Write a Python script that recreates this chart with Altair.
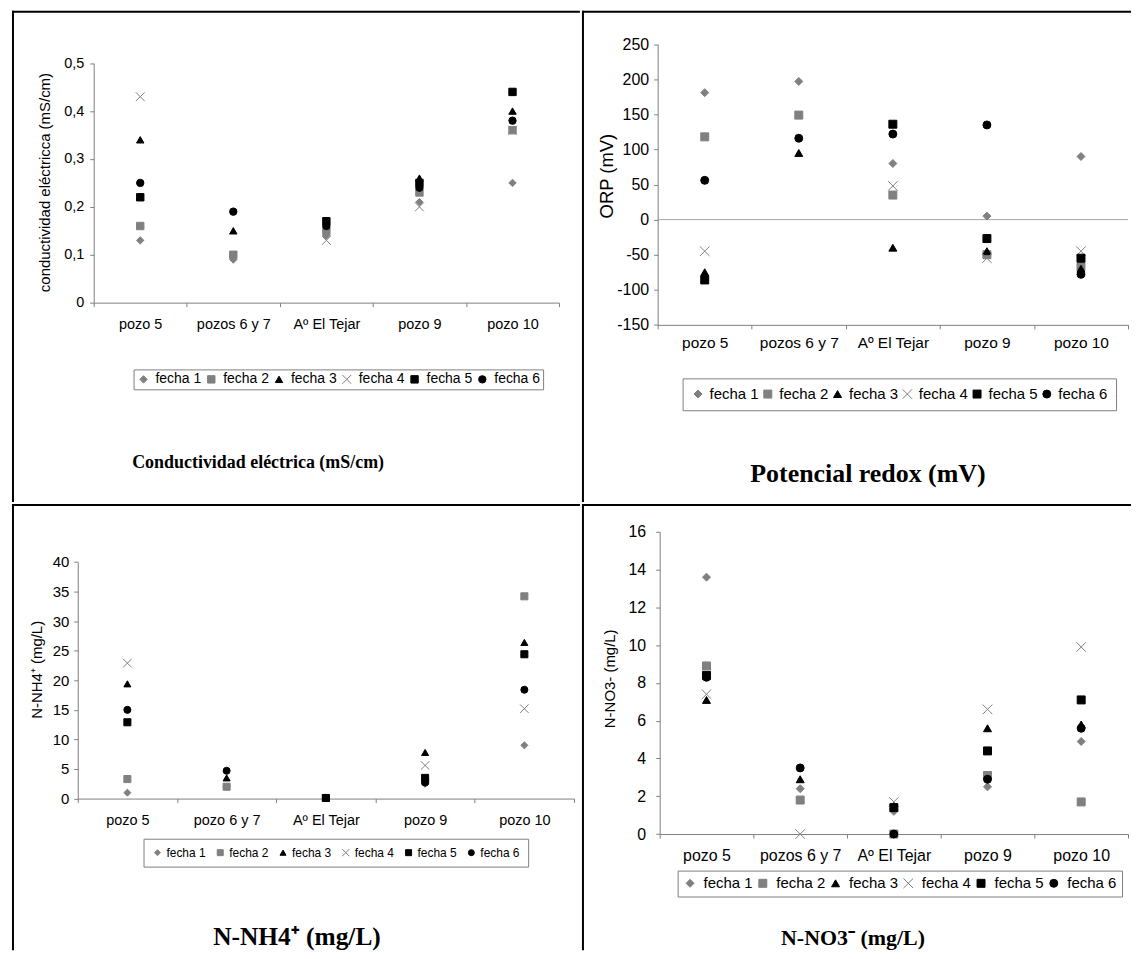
import altair as alt
import pandas as pd

SANS = "Liberation Sans"
SERIF = "Liberation Serif"
GRAY = "#808080"

FECHAS = ["fecha 1", "fecha 2", "fecha 3", "fecha 4", "fecha 5", "fecha 6"]
SITIOS = ["pozo 5", "pozos 6 y 7", "Aº El Tejar", "pozo 9", "pozo 10"]
SITIOS_NH4 = ["pozo 5", "pozo 6 y 7", "Aº El Tejar", "pozo 9", "pozo 10"]

# Conductividad eléctrica (mS/cm), one list per fecha, values per sitio
ce_f1 = [0.13, 0.09, 0.14, 0.21, 0.25]
ce_f2 = [0.16, 0.10, 0.15, 0.23, 0.36]
ce_f3 = [0.34, 0.15, None, 0.26, 0.40]
ce_f4 = [0.43, None, 0.13, 0.20, 0.36]
ce_f5 = [0.22, None, 0.17, 0.25, 0.44]
ce_f6 = [0.25, 0.19, 0.16, 0.24, 0.38]

# Potencial redox ORP (mV)
orp_f1 = [181, 197, 80, 5, 90]
orp_f2 = [118, 149, 35, -50, -67]
orp_f3 = [-75, 95, -40, -45, -70]
orp_f4 = [-45, None, 48, -55, -45]
orp_f5 = [-86, None, 136, -27, -55]
orp_f6 = [56, 116, 122, 135, -78]

# N-NH4+ (mg/L)
nh4_f1 = [1.0, 2.0, 0.1, 2.5, 9.0]
nh4_f2 = [3.3, 2.0, 0.1, 3.0, 34.2]
nh4_f3 = [19.4, 3.5, 0.1, 7.8, 26.4]
nh4_f4 = [22.9, None, None, 5.6, 15.2]
nh4_f5 = [12.9, None, 0.1, 3.5, 24.4]
nh4_f6 = [15.0, 4.7, 0.1, 2.7, 18.4]

# N-NO3- (mg/L)
no3_f1 = [13.6, 2.4, 1.2, 2.5, 4.9]
no3_f2 = [8.9, 1.8, 0.0, 3.1, 1.7]
no3_f3 = [7.1, 2.9, 1.5, 5.6, 5.8]
no3_f4 = [7.4, 0.0, 1.7, 6.6, 9.9]
no3_f5 = [8.4, None, 1.4, 4.4, 7.1]
no3_f6 = [8.3, 3.5, 0.0, 2.9, 5.6]

CE_TICKS = [0, 0.1, 0.2, 0.3, 0.4, 0.5]
ORP_TICKS = [-150, -100, -50, 0, 50, 100, 150, 200, 250]
NH4_TICKS = [0, 5, 10, 15, 20, 25, 30, 35, 40]
NO3_TICKS = [0, 2, 4, 6, 8, 10, 12, 14, 16]

X_PATH = "M-1.2,-1.2L1.2,1.2M-1.2,1.2L1.2,-1.2"
SHAPES = ["diamond", "square", "triangle-up", X_PATH, "square", "circle"]
COLORS = [GRAY, GRAY, "#000000", GRAY, "#000000", "#000000"]


def to_long(sitios, series):
    rows = []
    for fecha, vals in zip(FECHAS, series):
        for s, v in zip(sitios, vals):
            if v is not None:
                rows.append({"sitio": s, "fecha": fecha, "valor": v})
    return pd.DataFrame(rows)


def panel(p):
    W, H = p["W"], p["H"]
    df = to_long(p["sitios"], p["series"])
    xscale = alt.Scale(type="band", domain=p["sitios"], range=[p["x0"], p["x1"]],
                       paddingInner=0, paddingOuter=0)
    yscale = alt.Scale(domain=p["ydom"], range=[p["ybot"], p["ytop"]], nice=False, zero=False)
    xaxis = alt.Axis(title=None, orient="bottom", offset=-(H - p["ybot"]),
                     domainColor=GRAY, tickColor=GRAY, tickSize=4, tickBand="extent",
                     labelFont=SANS, labelFontSize=p["xfs"], labelColor="black",
                     labelPadding=p["xpad"], labelAngle=0, labelOverlap=False, grid=False)
    yaxis = alt.Axis(title=p["ytitle"], orient="left", offset=-p["x0"], values=p["yticks"],
                     labelExpr=p["lexpr"], domainColor=GRAY, tickColor=GRAY, tickSize=4,
                     labelFont=SANS, labelFontSize=p["yfs"], labelColor="black",
                     labelPadding=p["ypad"], titleFont=SANS, titleFontSize=p["tfs"],
                     titleFontWeight="normal", titleColor="black",
                     titlePadding=p["tpad"], titleY=p["ty"], grid=False)
    legend = alt.Legend(orient="none", legendX=p["lx"], legendY=p["ly"],
                        direction="horizontal", columns=6, title=None,
                        labelFont=SANS, labelFontSize=p["lfs"], labelColor="black",
                        symbolSize=p["lss"], symbolStrokeWidth=1,
                        strokeColor=GRAY, fillColor="white", padding=p["lpad"],
                        columnPadding=p["lcp"], labelOffset=p["lof"])
    shape_scale = alt.Scale(domain=FECHAS, range=SHAPES)
    col_scale = alt.Scale(domain=FECHAS, range=COLORS)

    pts = alt.Chart(df).mark_point(size=p["msize"], strokeWidth=1, opacity=1).encode(
        x=alt.X("sitio:N", scale=xscale, axis=xaxis),
        y=alt.Y("valor:Q", scale=yscale, axis=yaxis),
        shape=alt.Shape("fecha:N", scale=shape_scale, legend=legend),
        fill=alt.Fill("fecha:N", scale=col_scale, legend=legend),
        stroke=alt.Stroke("fecha:N", scale=col_scale, legend=legend),
    )

    one = pd.DataFrame({"borde": [1]})
    top = alt.Chart(one).mark_rule(color="black", strokeWidth=2).encode(
        x=alt.value(0), x2=alt.value(W), y=alt.value(1))
    left = alt.Chart(one).mark_rule(color="black", strokeWidth=2).encode(
        x=alt.value(1), y=alt.value(0), y2=alt.value(H))

    title = alt.Chart(pd.DataFrame({"titulo": [p["title"]]})).mark_text(
        font=SERIF, fontWeight="bold", fontSize=p["titfs"], align="center",
        baseline="alphabetic", color="black").encode(
        x=alt.value(p["titx"]), y=alt.value(p["tity"]), text="titulo:N")

    layers = [top, left]
    if p.get("zero"):
        zero = alt.Chart(pd.DataFrame({"valor": [0]})).mark_rule(
            color="#a6a6a6", strokeWidth=1).encode(
            y=alt.Y("valor:Q", scale=yscale, axis=yaxis),
            x=alt.value(p["x0"]), x2=alt.value(p["x1"]))
        layers.append(zero)
    layers += [pts, title]
    return alt.layer(*layers).properties(width=W, height=H)


INT_EXPR = "'' + datum.value"
CE_EXPR = "replace('' + datum.value, '.', ',')"

tl = panel(dict(
    W=570, H=493, sitios=SITIOS, series=[ce_f1, ce_f2, ce_f3, ce_f4, ce_f5, ce_f6],
    x0=82, x1=549, ybot=293, ytop=52.7, ydom=[0, 0.5], yticks=CE_TICKS, lexpr=CE_EXPR,
    ytitle="conductividad eléctricca (mS/cm)", xfs=14.5, xpad=11, yfs=14.5, ypad=6,
    tfs=15, tpad=11, ty=172, lx=122, ly=360, lfs=14, lss=55, lpad=3, lcp=3, lof=5, msize=55,
    title="Conductividad eléctrica (mS/cm)", titfs=18, titx=247, tity=459))

tr = panel(dict(
    W=551, H=493, sitios=SITIOS, series=[orp_f1, orp_f2, orp_f3, orp_f4, orp_f5, orp_f6],
    x0=76, x1=548, ybot=315.3, ytop=33.7, ydom=[-150, 250], yticks=ORP_TICKS, lexpr=INT_EXPR,
    ytitle="ORP (mV)", xfs=15.5, xpad=7, yfs=16, ypad=5, tfs=18.5, tpad=0, ty=165.5,
    lx=101, ly=369, lfs=15, lss=64, lpad=8, lcp=1, lof=4, msize=64, zero=True,
    title="Potencial redox (mV)", titfs=26, titx=287, tity=473))

bl = panel(dict(
    W=570, H=448, sitios=SITIOS_NH4, series=[nh4_f1, nh4_f2, nh4_f3, nh4_f4, nh4_f5, nh4_f6],
    x0=66, x1=564, ybot=295.7, ytop=58.3, ydom=[0, 40], yticks=NH4_TICKS, lexpr=INT_EXPR,
    ytitle="N-NH4⁺ (mg/L)", xfs=14.5, xpad=11, yfs=15, ypad=5, tfs=15, tpad=8, ty=166,
    lx=132, ly=336, lfs=12, lss=36, lpad=8, lcp=8, lof=3, msize=50,
    title="N-NH4⁺ (mg/L)", titfs=25.5, titx=286, tity=443))

br = panel(dict(
    W=551, H=448, sitios=SITIOS, series=[no3_f1, no3_f2, no3_f3, no3_f4, no3_f5, no3_f6],
    x0=78, x1=548, ybot=331.3, ytop=28, ydom=[0, 16], yticks=NO3_TICKS, lexpr=INT_EXPR,
    ytitle="N-NO3- (mg/L)", xfs=16, xpad=10, yfs=16, ypad=10, tfs=15, tpad=11, ty=175,
    lx=96, ly=368, lfs=15, lss=64, lpad=5, lcp=2, lof=6, msize=64,
    title="N-NO3⁻ (mg/L)", titfs=22, titx=272, tity=443))

IND = dict(x="independent", y="independent", shape="independent",
           fill="independent", stroke="independent")
LEG = dict(shape="independent", fill="independent", stroke="independent")

row1 = alt.hconcat(tl, tr, spacing=0).resolve_scale(**IND).resolve_legend(**LEG)
row2 = alt.hconcat(bl, br, spacing=0).resolve_scale(**IND).resolve_legend(**LEG)

chart = (
    alt.vconcat(row1, row2, spacing=0)
    .resolve_scale(**IND)
    .resolve_legend(**LEG)
    .properties(padding={"left": 3, "top": 0, "right": 0, "bottom": 0}, background="white")
    .configure_view(strokeWidth=0)
)

chart.save("out.html", embed_options={"renderer": "svg", "actions": False})
